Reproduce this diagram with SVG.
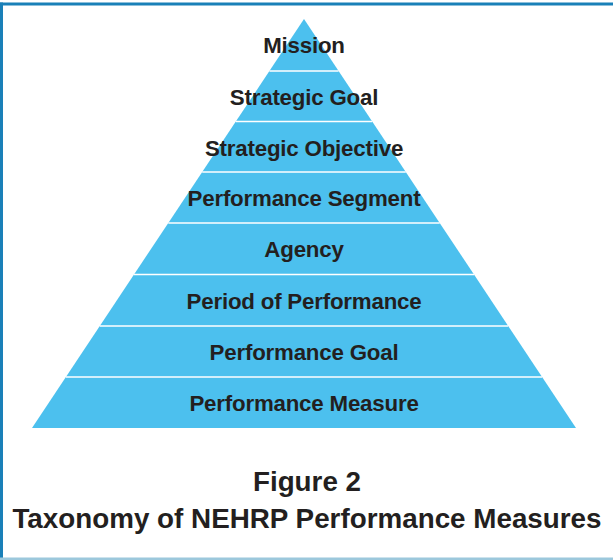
<svg xmlns="http://www.w3.org/2000/svg" width="613" height="560" viewBox="0 0 613 560">
<style>
.band{fill:#4cc0ee}
.sep{stroke:#ffffff;stroke-width:1.6}
.lbl{font-family:"Liberation Sans",Arial,sans-serif;font-weight:bold;font-size:22.3px;fill:#231f20;text-anchor:middle;letter-spacing:-0.2px}
.cap{font-family:"Liberation Sans",Arial,sans-serif;font-weight:bold;font-size:27.8px;fill:#231f20;text-anchor:middle}
</style>
<rect x="0" y="0" width="613" height="560" fill="#ffffff"/>
<g id="frame">
<rect x="0" y="2.5" width="613" height="3" fill="#1a80b8"/>
<rect x="0" y="2.5" width="3" height="557.5" fill="#1a80b8"/>
<rect x="0" y="557.5" width="613" height="2.5" fill="#9cc8dc"/>
</g>
<g id="band-mission"><polygon class="band" points="304,19 338.6,71 269.4,71"/><text class="lbl" x="304" y="53">Mission</text></g>
<g id="band-strategic-goal"><polygon class="band" points="269.4,71 338.6,71 372.2,121.5 235.8,121.5"/><line class="sep" x1="269.4" y1="71" x2="338.6" y2="71"/><text class="lbl" x="304" y="104.5">Strategic Goal</text></g>
<g id="band-strategic-objective"><polygon class="band" points="235.8,121.5 372.2,121.5 405.8,172 202.2,172"/><line class="sep" x1="235.8" y1="121.5" x2="372.2" y2="121.5"/><text class="lbl" x="304" y="155.5">Strategic Objective</text></g>
<g id="band-performance-segment"><polygon class="band" points="202.2,172 405.8,172 439.7,223 168.3,223"/><line class="sep" x1="202.2" y1="172" x2="405.8" y2="172"/><text class="lbl" x="304" y="206">Performance Segment</text></g>
<g id="band-agency"><polygon class="band" points="168.3,223 439.7,223 474,274.5 134,274.5"/><line class="sep" x1="168.3" y1="223" x2="439.7" y2="223"/><text class="lbl" x="304" y="257">Agency</text></g>
<g id="band-period"><polygon class="band" points="134,274.5 474,274.5 508.2,326 99.8,326"/><line class="sep" x1="134" y1="274.5" x2="474" y2="274.5"/><text class="lbl" x="304" y="308.5">Period of Performance</text></g>
<g id="band-performance-goal"><polygon class="band" points="99.8,326 508.2,326 542.1,377 65.9,377"/><line class="sep" x1="99.8" y1="326" x2="508.2" y2="326"/><text class="lbl" x="304" y="360">Performance Goal</text></g>
<g id="band-performance-measure"><polygon class="band" points="65.9,377 542.1,377 576,428 32,428"/><line class="sep" x1="65.9" y1="377" x2="542.1" y2="377"/><text class="lbl" x="304" y="411">Performance Measure</text></g>
<g id="caption">
<text class="cap" x="307" y="490.5">Figure 2</text>
<text class="cap" x="307" y="528">Taxonomy of NEHRP Performance Measures</text>
</g>
</svg>
